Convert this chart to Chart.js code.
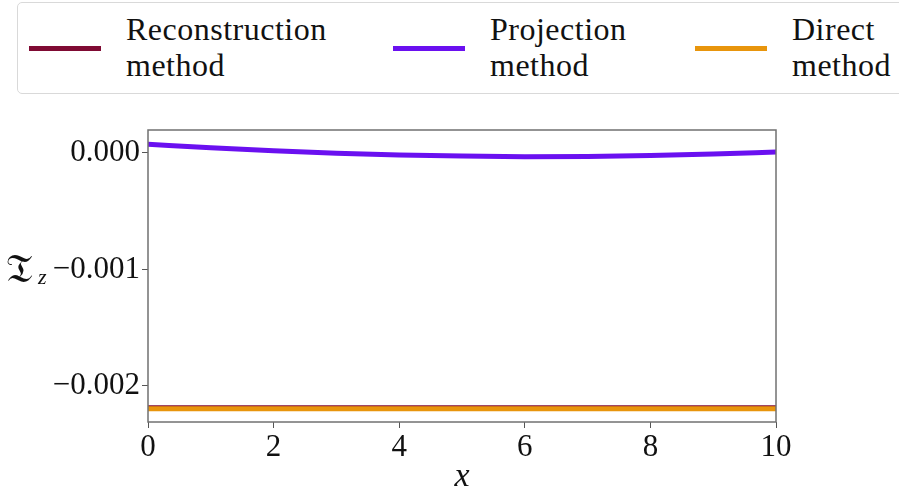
<!DOCTYPE html>
<html lang="en">
<head>
    <meta charset="UTF-8">
    <title>T_z along x</title>
    <script src="https://cdn.jsdelivr.net/npm/chart.js"></script>
    <style>
        body { margin: 0; background: #fff; }
        #wrap { position: relative; width: 899px; height: 492px; overflow: hidden; }
        #legend {
            position: absolute; left: 17px; top: 2px; width: 900px; height: 90px;
            border: 1px solid #d9d9d9; border-radius: 5px; background: #fff;
            font-family: "Liberation Serif", serif; font-size: 32px; letter-spacing: 0.5px; color: #111;
        }
        .item { position: absolute; top: 0; height: 90px; }
        .handle { position: absolute; top: 43px; width: 72px; height: 5px; }
        .label { position: absolute; left: 97px; top: 8px; line-height: 36px; white-space: nowrap; }
    </style>
</head>
<body>
<div id="wrap">
    <canvas id="tzChart" width="899" height="492"></canvas>
    <div id="legend"></div>
</div>
<script>
// values
const xValues = [0, 1, 2, 3, 4, 5, 6, 7, 8, 9, 10];
const reconstruction = [-0.002188, -0.002188, -0.002188, -0.002188, -0.002188, -0.002188, -0.002188, -0.002188, -0.002188, -0.002188, -0.002188];
const projection = [0.000075, 0.000045, 0.000018, -0.000002, -0.000017, -0.000027, -0.000032, -0.000030, -0.000022, -0.000008, 0.000008];
const direct = [-0.002196, -0.002196, -0.002196, -0.002196, -0.002196, -0.002196, -0.002196, -0.002196, -0.002196, -0.002196, -0.002196];

const seriesNames = [['Reconstruction', 'method'], ['Projection', 'method'], ['Direct', 'method']];
const seriesColors = ['#7f0a33', '#6a10f0', '#e8950c'];
const yTickValues = [0, -0.001, -0.002];
const xTickValues = [0, 2, 4, 6, 8, 10];

// legend (html, two-line labels)
const legendLeft = [11, 375, 677];
const legendEl = document.getElementById('legend');
seriesNames.forEach((name, i) => {
    const item = document.createElement('div');
    item.className = 'item';
    item.style.left = legendLeft[i] + 'px';
    item.innerHTML = '<div class="handle" style="background:' + seriesColors[i] + '"></div>' +
        '<div class="label">' + name.join('<br>') + '</div>';
    legendEl.appendChild(item);
});

const toPoints = ys => xValues.map((x, i) => ({ x: x, y: ys[i] }));

// frame around plot + axis labels
const framePlugin = {
    id: 'frame',
    afterDraw(chart) {
        const { ctx, chartArea: a } = chart;
        ctx.save();
        ctx.strokeStyle = '#707070';
        ctx.lineWidth = 1.5;
        ctx.strokeRect(a.left, a.top, a.right - a.left, a.bottom - a.top);
        ctx.fillStyle = '#111';
        ctx.textBaseline = 'alphabetic';
        ctx.font = '40px "DejaVu Serif", "Liberation Serif", serif';
        ctx.fillText('\u{1D517}', 6, 282);
        ctx.font = 'italic 22px "Liberation Serif", serif';
        ctx.fillText('z', 38, 284);
        ctx.textAlign = 'center';
        ctx.font = 'italic 34px "Liberation Serif", serif';
        ctx.fillText('x', (a.left + a.right) / 2, 486);
        ctx.restore();
    }
};

const ctx = document.getElementById('tzChart').getContext('2d');
new Chart(ctx, {
    type: 'line',
    data: {
        datasets: [
            { label: seriesNames[0].join(' '), data: toPoints(reconstruction), borderColor: seriesColors[0], order: 3 },
            { label: seriesNames[1].join(' '), data: toPoints(projection), borderColor: seriesColors[1], order: 2 },
            { label: seriesNames[2].join(' '), data: toPoints(direct), borderColor: seriesColors[2], order: 1 }
        ]
    },
    options: {
        responsive: false,
        animation: false,
        layout: { padding: { top: 130, right: 123, left: 0, bottom: 0 } },
        elements: {
            line: { borderWidth: 5, tension: 0.4, cubicInterpolationMode: 'monotone' },
            point: { radius: 0 }
        },
        plugins: { legend: { display: false }, tooltip: { enabled: false } },
        scales: {
            x: {
                type: 'linear',
                min: 0,
                max: 10,
                border: { display: false },
                grid: { drawOnChartArea: false, drawTicks: true, tickLength: 6, tickColor: '#555' },
                afterBuildTicks: s => { s.ticks = xTickValues.map(v => ({ value: v })); },
                afterFit: s => { s.height = 70; },
                ticks: {
                    color: '#111', padding: 1,
                    font: { family: '"Liberation Serif", serif', size: 31 },
                    callback: v => String(v)
                }
            },
            y: {
                min: -0.00231,
                max: 0.000197,
                border: { display: false },
                grid: { drawOnChartArea: false, drawTicks: true, tickLength: 6, tickColor: '#555' },
                afterBuildTicks: s => { s.ticks = yTickValues.map(v => ({ value: v })); },
                afterFit: s => { s.width = 148; },
                ticks: {
                    color: '#111', padding: 2,
                    font: { family: '"Liberation Serif", serif', size: 31 },
                    callback: v => (v < 0 ? '\u2212' : '') + Math.abs(v).toFixed(3)
                }
            }
        }
    },
    plugins: [framePlugin]
});
</script>
</body>
</html>
